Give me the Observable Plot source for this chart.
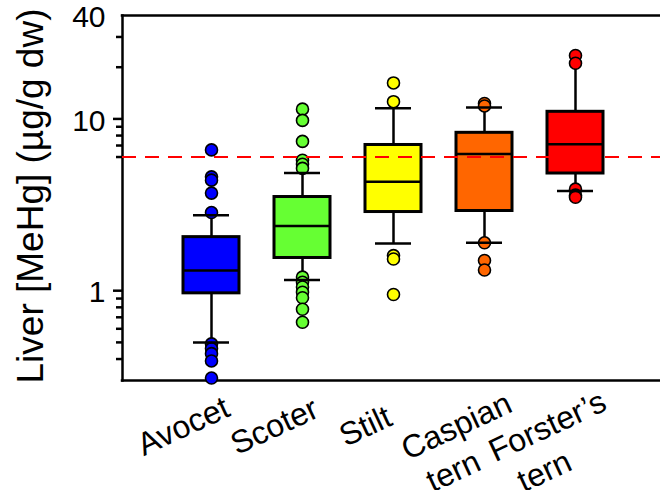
<!DOCTYPE html>
<html>
<head>
<meta charset="utf-8">
<script src="https://cdn.jsdelivr.net/npm/d3@7"></script>
<script src="https://cdn.jsdelivr.net/npm/@observablehq/plot@0.6"></script>
<style>
  html, body { margin: 0; padding: 0; background: #fff; }
  #chart { width: 660px; height: 490px; }
</style>
</head>
<body>
<div id="chart"></div>
<script>
// ---- data ----
const species    = ["Avocet", "Scoter", "Stilt", "Caspian tern", "Forster's tern"];
const labelLine1 = ["Avocet", "Scoter", "Stilt", "Caspian", "Forster\u2019s"];
const labelLine2 = ["", "", "", "tern", "tern"];
const boxColors  = ["#0000FF", "#66FF33", "#FFFF00", "#FF6600", "#FF0000"];

const whiskerLo = [0.50, 1.155, 1.88, 1.90, 3.81];
const q1        = [0.965, 1.55, 2.87, 2.91, 4.81];
const median    = [1.31, 2.38, 4.30, 6.24, 7.11];
const q3        = [2.05, 3.51, 7.05, 8.30, 11.0];
const whiskerHi = [2.75, 4.85, 11.55, 11.65, 20.5];
const capLo     = [0.50, 1.155, 1.88, 1.90, 3.81];
const capHi     = [2.75, 4.85, 11.55, 11.65, null];

const outliers = [
  [6.6, 4.6, 4.4, 3.7, 2.85, 0.49, 0.46, 0.43, 0.39, 0.31],
  [11.4, 9.8, 7.4, 5.75, 5.45, 5.15, 1.2, 1.12, 1.05, 0.98, 0.91, 0.78, 0.655],
  [16.2, 12.6, 1.6, 1.53, 0.95],
  [12.3, 11.9, 1.9, 1.5, 1.32],
  [23.4, 21.1, 3.9, 3.6, 3.5]
];

const threshold = 6;
const yDomain = [0.3, 40];
const yLabelTicks = [1, 10, 40];
const yMajorTicks = [1, 10];
const yMinorTicks = [0.4, 0.5, 0.6, 0.7, 0.8, 0.9, 6, 7, 8, 9, 20, 30];
const yTitle = "Liver [MeHg] (\u00B5g/g dw)";

// ---- tables built from the arrays ----
const rows = species.map((name, i) => ({
  name, line1: labelLine1[i], line2: labelLine2[i], color: boxColors[i],
  lo: whiskerLo[i], q1: q1[i], med: median[i], q3: q3[i], hi: whiskerHi[i]
}));
const caps = species.flatMap((name, i) => [capLo[i], capHi[i]]
  .filter(v => v != null).map(v => ({name, v})));
const points = species.flatMap((name, i) => outliers[i].map(v => ({name, v, color: boxColors[i]})));

const font = "'Liberation Sans', Arial, Helvetica, sans-serif";
const W = 660, ML = 122, MR = 0;
const frameW = W - ML - MR;
const labelStyle = {frameAnchor: "bottom", rotate: -25, textAnchor: "middle",
  lineAnchor: "middle", fontSize: 32, fill: "black"};

const chart = Plot.plot({
  width: W,
  height: 490,
  marginTop: 15,
  marginBottom: 110,
  marginLeft: ML,
  marginRight: MR,
  style: {fontFamily: font, fontSize: "30px", color: "black", background: "white"},
  x: {type: "band", domain: species, paddingInner: 0.386, paddingOuter: 0.641, align: 0.52, axis: null},
  y: {type: "log", domain: yDomain, label: null, axis: null},
  color: {type: "identity"},
  marks: [
    // frame lines (top, bottom) and left axis line
    Plot.ruleY(yDomain, {stroke: "black", strokeWidth: 2.5, insetLeft: -1.25}),
    Plot.frame({anchor: "left", stroke: "black", strokeWidth: 2.5}),
    // major / minor ticks (outward, left of the axis line)
    Plot.ruleY(yMajorTicks, {stroke: "black", strokeWidth: 2.5, insetLeft: -9, insetRight: frameW}),
    Plot.ruleY(yMinorTicks, {stroke: "black", strokeWidth: 2.5, insetLeft: -6, insetRight: frameW}),
    // tick labels
    Plot.axisY({ticks: yLabelTicks, tickSize: 0, tickPadding: 17, dy: 2, fontSize: 30, tickFormat: d => String(d), label: null}),
    // whiskers
    Plot.ruleX(rows, {x: "name", y1: "lo", y2: "q1", stroke: "black", strokeWidth: 2.5}),
    Plot.ruleX(rows, {x: "name", y1: "q3", y2: "hi", stroke: "black", strokeWidth: 2.5}),
    // outliers
    Plot.dot(points, {x: "name", y: "v", fill: "color", stroke: "black", strokeWidth: 1.6, r: 6}),
    // caps
    Plot.tickY(caps, {x: "name", y: "v", stroke: "black", strokeWidth: 2.5, inset: 10}),
    // boxes
    Plot.barY(rows, {x: "name", y1: "q1", y2: "q3", fill: "color", stroke: "black", strokeWidth: 3}),
    Plot.tickY(rows, {x: "name", y: "med", stroke: "black", strokeWidth: 2.5}),
    // threshold
    Plot.ruleY([threshold], {stroke: "#FF0000", strokeWidth: 2, strokeDasharray: "14,9"}),
    // x tick labels (two lines)
    Plot.text(rows, {x: "name", text: "line1", dx: -28, dy: 46, ...labelStyle}),
    Plot.text(rows.filter(d => d.line2), {x: "name", text: "line2", dx: -31, dy: 91, ...labelStyle}),
    // y title
    Plot.text([yTitle], {frameAnchor: "left", rotate: -90, textAnchor: "middle",
      lineAnchor: "bottom", dx: -80, dy: -2, fontSize: 37, fill: "black"})
  ]
});
document.getElementById("chart").appendChild(chart);
</script>
</body>
</html>
